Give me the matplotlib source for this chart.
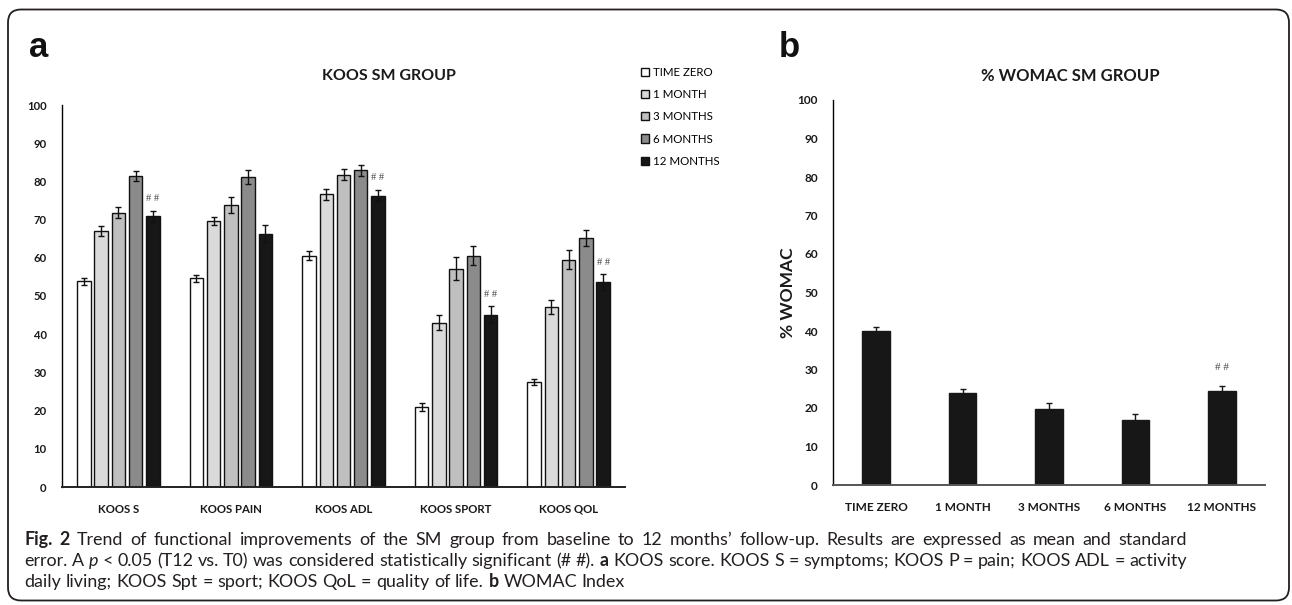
import matplotlib
matplotlib.use('Agg')
import matplotlib.pyplot as plt
import numpy as np
from matplotlib.patches import FancyBboxPatch, Patch

# ---------------- data ----------------
koos_categories = ['KOOS S', 'KOOS PAIN', 'KOOS ADL', 'KOOS SPORT', 'KOOS QOL']
series_names = ['TIME ZERO', '1 MONTH', '3 MONTHS', '6 MONTHS', '12 MONTHS']

koos_t0 = [53.8, 54.6, 60.5, 20.9, 27.5]
koos_m1 = [66.9, 69.7, 76.6, 43.0, 47.1]
koos_m3 = [71.8, 73.8, 81.8, 57.1, 59.5]
koos_m6 = [81.4, 81.2, 82.9, 60.6, 65.2]
koos_m12 = [70.9, 66.3, 76.3, 45.1, 53.7]

koos_t0_err = [0.9, 1.0, 1.2, 1.1, 0.9]
koos_m1_err = [1.3, 1.0, 1.5, 2.0, 1.8]
koos_m3_err = [1.4, 2.1, 1.5, 3.0, 2.5]
koos_m6_err = [1.2, 1.8, 1.4, 2.4, 2.2]
koos_m12_err = [1.4, 2.2, 1.4, 2.2, 2.0]

koos_sig = [True, False, True, True, True]

womac_categories = ['TIME ZERO', '1 MONTH', '3 MONTHS', '6 MONTHS', '12 MONTHS']
womac_values = [40.0, 23.8, 19.7, 16.9, 24.4]
womac_err = [1.1, 1.2, 1.7, 1.5, 1.4]
womac_sig = [False, False, False, False, True]

y_ticks = [0, 10, 20, 30, 40, 50, 60, 70, 80, 90, 100]

# ---------------- styling ----------------
koos_colors = ['#ffffff', '#dadada', '#bfbfbf', '#8b8b8b', '#171717']
FONT = 'Lato'
W, H = 1292, 605

fig = plt.figure(figsize=(W / 100, H / 100), dpi=100)


def fx(px):
    return px / W


def fy(py):
    return 1 - py / H


# background axes in pixel coordinates (border + caption)
bg = fig.add_axes([0, 0, 1, 1], zorder=-1)
bg.set_xlim(0, W)
bg.set_ylim(H, 0)
bg.axis('off')
bg.add_patch(FancyBboxPatch((8, 9.5), 1281, 591,
                            boxstyle='round,pad=0,rounding_size=13',
                            fill=False, lw=1.3, ec='#231f20'))

# ---------------- panel a ----------------
axA = fig.add_axes([fx(62), fy(487), fx(625) - fx(62), fy(105) - fy(487)])
series = [koos_t0, koos_m1, koos_m3, koos_m6, koos_m12]
errs = [koos_t0_err, koos_m1_err, koos_m3_err, koos_m6_err, koos_m12_err]
xa = np.arange(len(koos_categories))
step = 0.153
bw = 0.12
handles = []
for j, (vals, ee) in enumerate(zip(series, errs)):
    axA.bar(xa + (j - 2) * step, vals, bw, color=koos_colors[j],
            edgecolor='#111111', linewidth=1.0, yerr=ee, capsize=2,
            error_kw=dict(elinewidth=1, capthick=1, ecolor='#111111'), zorder=2)
    handles.append(Patch(facecolor=koos_colors[j], edgecolor='#111111',
                         linewidth=1.0, label=series_names[j]))
for i, s in enumerate(koos_sig):
    if s:
        axA.text(xa[i] + 2 * step, koos_m12[i] + koos_m12_err[i] + 3.2, '# #',
                 ha='center', va='center', fontsize=7.5,
                 family='Liberation Serif', color='#444444')

axA.set_xlim(-0.5, len(koos_categories) - 0.5)
axA.set_ylim(0, 100)
axA.set_yticks(y_ticks)
axA.set_xticks(xa)
axA.set_xticklabels(koos_categories)
for sp in ['top', 'right']:
    axA.spines[sp].set_visible(False)
axA.spines['left'].set_linewidth(1.0)
axA.spines['bottom'].set_linewidth(1.4)
axA.spines['bottom'].set_color('#222222')
axA.tick_params(axis='both', length=0)
axA.tick_params(axis='y', pad=11)
axA.tick_params(axis='x', pad=12)
for lab in axA.get_xticklabels() + axA.get_yticklabels():
    lab.set_fontfamily(FONT)
    lab.set_fontweight('bold')
    lab.set_fontsize(8.2)
    lab.set_color('#1a1a1a')
axA.patch.set_alpha(0)

fig.text(fx(389), fy(76), 'KOOS SM GROUP', ha='center', va='center',
         family=FONT, fontweight='bold', fontsize=11.5, color='#1a1a1a')

fig.legend(handles=handles, loc='upper left',
           bbox_to_anchor=(fx(641), fy(67)), frameon=False,
           prop={'family': FONT, 'size': 8.3}, handlelength=0.7,
           handleheight=0.7, handletextpad=0.3, labelspacing=0.97,
           borderpad=0, borderaxespad=0)

# ---------------- panel b ----------------
axB = fig.add_axes([fx(833), fy(485), fx(1265) - fx(833), fy(100) - fy(485)])
xb = np.arange(len(womac_categories))
axB.bar(xb, womac_values, 0.32, color='#171717', edgecolor='#171717',
        yerr=womac_err, capsize=2,
        error_kw=dict(elinewidth=1, capthick=1, ecolor='#171717'), zorder=2)
for i, s in enumerate(womac_sig):
    if s:
        axB.text(xb[i], womac_values[i] + womac_err[i] + 4.6, '# #',
                 ha='center', va='center', fontsize=8,
                 family='Liberation Serif', color='#444444')
axB.set_xlim(-0.5, len(womac_categories) - 0.5)
axB.set_ylim(0, 100)
axB.set_yticks(y_ticks)
axB.set_xticks(xb)
axB.set_xticklabels(womac_categories)
for sp in ['top', 'right']:
    axB.spines[sp].set_visible(False)
axB.spines['left'].set_linewidth(1.0)
axB.spines['bottom'].set_linewidth(1.4)
axB.spines['bottom'].set_color('#555555')
axB.tick_params(axis='both', length=0)
axB.tick_params(axis='y', pad=11)
axB.tick_params(axis='x', pad=12)
for lab in axB.get_xticklabels() + axB.get_yticklabels():
    lab.set_fontfamily(FONT)
    lab.set_fontweight('bold')
    lab.set_fontsize(8.5)
    lab.set_color('#1a1a1a')
axB.set_ylabel('% WOMAC', family=FONT, fontweight='bold', fontsize=12.5,
               labelpad=1, color='#1a1a1a')
axB.patch.set_alpha(0)

fig.text(fx(1070), fy(76), '% WOMAC SM GROUP', ha='center', va='center',
         family=FONT, fontweight='bold', fontsize=12, color='#1a1a1a')

# panel letters
fig.text(fx(29), fy(57), 'a', ha='left', va='baseline', family='Liberation Sans',
         fontweight='bold', fontsize=25, color='#111111')
fig.text(fx(779), fy(57), 'b', ha='left', va='baseline', family='Liberation Sans',
         fontweight='bold', fontsize=25, color='#111111')

# ---------------- caption (justified) ----------------
renderer = fig.canvas.get_renderer()
CAP = '#231f20'
N = {}
B = {'fontweight': 'bold'}
I = {'style': 'italic'}
lines = [
    [('Fig. 2', B), (' Trend of functional improvements of the SM group from baseline to 12 months\u2019 follow-up. Results are expressed as mean and standard', N)],
    [('error. A ', N), ('p', I), (' < 0.05 (T12 vs. T0) was considered statistically significant (# #). ', N), ('a', B), (' KOOS score. KOOS S = symptoms; KOOS P = pain; KOOS ADL = activity', N)],
    [('daily living; KOOS Spt = sport; KOOS QoL = quality of life. ', N), ('b', B), (' WOMAC Index', N)],
]
justify = [True, True, False]
baselines = [545, 566, 587]
X0, XW = 24, 1163


def tokens(segs):
    # list of (word, style, space_before)
    out = []
    pending_space = False
    for s, st in segs:
        parts = s.split(' ')
        for k, p in enumerate(parts):
            if k > 0:
                pending_space = True
            if p:
                out.append((p, st, pending_space and len(out) > 0))
                pending_space = False
    return out


def measure(word, st, size):
    t = bg.text(0, 0, word, fontsize=size, family=FONT, **st)
    w = t.get_window_extent(renderer).width
    t.remove()
    return w


def natural(segs, size):
    toks = tokens(segs)
    ws = [measure(w, st, size) for w, st, _ in toks]
    sp = measure('a a', N, size) - 2 * measure('a', N, size)
    gaps = sum(1 for _, _, b in toks if b)
    return sum(ws) + gaps * sp, toks, ws, sp


ref = 11
cap_size = ref * XW / max(natural(lines[0], ref)[0], natural(lines[1], ref)[0])

for segs, yb, jf in zip(lines, baselines, justify):
    tot, toks, ws, sp = natural(segs, cap_size)
    gaps = sum(1 for _, _, b in toks if b)
    if jf and gaps:
        sp = (XW - sum(ws)) / gaps
    x = X0
    for (w, st, b), wd in zip(toks, ws):
        if b:
            x += sp
        bg.text(x, yb, w, fontsize=cap_size, family=FONT, va='baseline',
                ha='left', color=CAP, **st)
        x += wd

fig.savefig('out.png', dpi=100)
